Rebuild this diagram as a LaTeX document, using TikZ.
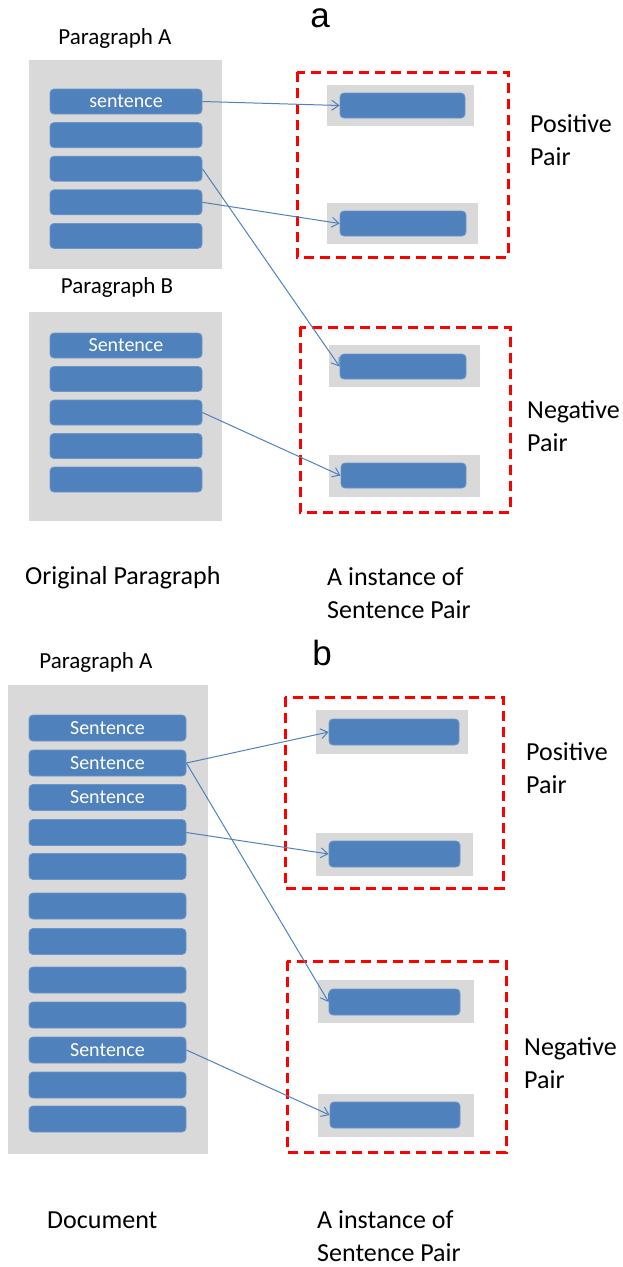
\documentclass[tikz,border=0pt]{standalone}
\usepackage{fontspec}
\setmainfont{Carlito}
\newfontfamily\letterfont{Liberation Sans}
\usetikzlibrary{arrows.meta}
\definecolor{barblue}{HTML}{4F81BD}
\definecolor{baredge}{HTML}{6A96CA}
\definecolor{boxgray}{HTML}{D9D9D9}
\tikzset{
	bar/.style={fill=barblue,draw=baredge,line width=.8pt,rounded corners=4pt,inner sep=0pt,
		minimum height=25pt,text=white,font=\fontsize{20}{24}\selectfont},
	pairbg/.style={fill=boxgray},
	pairbox/.style={draw=red,line width=3pt,dash pattern=on 10pt off 6pt},
	link/.style={draw=barblue,line width=1pt,-{Straight Barb[length=7pt,width=10pt]}},
	caption/.style={font=\fontsize{26}{33}\selectfont,align=left,inner sep=0pt},
	title/.style={font=\fontsize{23}{27}\selectfont,inner sep=0pt}
}
\begin{document}
\begin{tikzpicture}[x=1pt,y=-1pt]
		\useasboundingbox (0,0) rectangle (623,1267);
		\node[font=\letterfont\fontsize{35}{40}\selectfont,inner sep=0pt] (la) at (320,18){a};
		\node[title] (pA) at (115,38){Paragraph A};
		\fill[pairbg] (29,60) rectangle (222,269);
		\foreach \i/\t in {1/sentence,2/,3/,4/,5/}
			\node[bar,minimum width=152pt] (a\i) at (126,{101.5+33.6*(\i-1)}){\t};
		\node[title] (pB) at (117,287){Paragraph B};
		\fill[pairbg] (29,312) rectangle (222,521);
		\foreach \i/\t in {1/Sentence,2/,3/,4/,5/}
			\node[bar,minimum width=152pt] (b\i) at (126,{345.5+33.5*(\i-1)}){\t};
		\draw[pairbox] (297,72) rectangle (508,257);
		\fill[pairbg] (327,85) rectangle (474,126);
		\fill[pairbg] (327,203) rectangle (478,244);
		\node[bar,minimum width=125pt] (pa1) at (402.5,105.5){};
		\node[bar,minimum width=126pt] (pa2) at (403,223.5){};
		\node[caption,anchor=west] (posa) at (530,140){Positive\\Pair};
		\draw[pairbox] (300,327) rectangle (510,512);
		\fill[pairbg] (329,345) rectangle (480,387);
		\fill[pairbg] (329,455) rectangle (480,497);
		\node[bar,minimum width=126pt] (na1) at (403,366.5){};
		\node[bar,minimum width=125pt] (na2) at (403.5,475.5){};
		\node[caption,anchor=west] (nega) at (527,426){Negative\\Pair};
		\draw[link] (a1.east) -- (pa1.west);
		\draw[link] (a4.east) -- (pa2.west);
		\draw[link] (a3.east) -- (na1.west);
		\draw[link] (b3.east) -- (na2.west);
		\node[caption,anchor=west] (orig) at (25,578){Original Paragraph};
		\node[caption,anchor=west] (insta) at (327,593){A instance of\\Sentence Pair};
		\node[font=\letterfont\fontsize{35}{40}\selectfont,inner sep=0pt] (lb) at (322,653){b};
		\node[title] (pD) at (96,662){Paragraph A};
		\fill[pairbg] (8,685) rectangle (208,1154);
		\foreach \i/\y/\t in {1/728/Sentence,2/763/Sentence,3/797.5/Sentence,4/832.5/,5/866.5/,6/906/,
			7/941.5/,8/980/,9/1015/,10/1050/Sentence,11/1085/,12/1119/}
			\node[bar,minimum width=157pt,minimum height=26pt] (d\i) at (107.5,\y){\t};
		\draw[pairbox] (285,697) rectangle (503,888);
		\fill[pairbg] (316,710) rectangle (468,754);
		\fill[pairbg] (316,833) rectangle (473,876);
		\node[bar,minimum width=130pt,minimum height=26pt] (pb1) at (394,732){};
		\node[bar,minimum width=131pt,minimum height=26pt] (pb2) at (394.5,854){};
		\node[caption,anchor=west] (posb) at (526,768){Positive\\Pair};
		\draw[pairbox] (287,961) rectangle (506,1152);
		\fill[pairbg] (318,980) rectangle (474,1023);
		\fill[pairbg] (318,1094) rectangle (474,1137);
		\node[bar,minimum width=131pt,minimum height=26pt] (nb1) at (394.5,1002){};
		\node[bar,minimum width=130pt,minimum height=26pt] (nb2) at (395,1115){};
		\node[caption,anchor=west] (negb) at (524,1063){Negative\\Pair};
		\draw[link] (d2.east) -- (pb1.west);
		\draw[link] (d4.east) -- (pb2.west);
		\draw[link] (d2.east) -- (nb1.west);
		\draw[link] (d10.east) -- (nb2.west);
		\node[caption,anchor=west] (doc) at (47,1220){Document};
		\node[caption,anchor=west] (instb) at (317,1236){A instance of\\Sentence Pair};
	\end{tikzpicture}
\end{document}
